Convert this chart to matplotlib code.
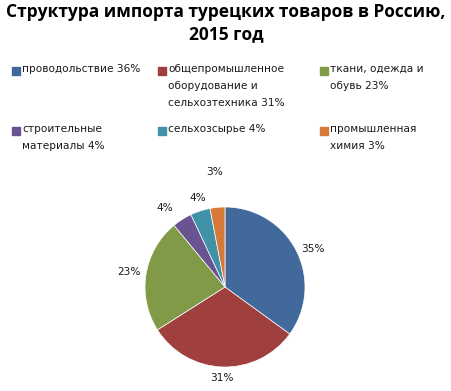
import numpy as np
import matplotlib.pyplot as plt
from matplotlib.patches import Rectangle

# data
legend_labels = ["проводольствие 36%",
                 "общепромышленное\nоборудование и\nсельхозтехника 31%",
                 "ткани, одежда и\nобувь 23%",
                 "строительные\nматериалы 4%",
                 "сельхозсырье 4%",
                 "промышленная\nхимия 3%"]
shares = [35, 31, 23, 4, 4, 3]
colors = ["#41699c", "#a0403e", "#809a47", "#6a5391", "#3f92a8", "#d67a39"]

W, H = 452, 391
fig = plt.figure(figsize=(W / 100, H / 100), dpi=100)

def fx(px):
    return px / W

def fy(py):
    return 1 - py / H

fig.text(0.5, fy(23), "Структура импорта турецких товаров в Россию,\n2015 год",
         ha="center", va="center", fontsize=12.5, fontweight="bold",
         family="Open Sans", linespacing=1.3)

# legend, drawn by hand to get the Excel look (marker on the first line)
cols_x = [12, 158, 320]
rows_y = [64, 124]
for i, lab in enumerate(legend_labels):
    x = cols_x[i % 3]
    y = rows_y[i // 3]
    fig.patches.append(Rectangle((fx(x), fy(y + 11)), 8 / W, 8 / H,
                                 transform=fig.transFigure, color=colors[i]))
    fig.text(fx(x + 10), fy(y), lab, ha="left", va="top", fontsize=7.6,
             color="#1a1a1a", linespacing=1.9)

# pie
cx, cy, r = 225, 287, 80
ax = fig.add_axes([fx(cx - r), fy(cy + r), 2 * r / W, 2 * r / H])
wedges, _ = ax.pie(shares, colors=colors, startangle=90, counterclock=False,
                   wedgeprops=dict(edgecolor="white", linewidth=0.5))
ax.set_xlim(-1, 1)
ax.set_ylim(-1, 1)
ax.set_aspect("equal")
ax.axis("off")

# label placement: (radius factor, angle shift in degrees)
label_pos = [(1.2, -4), (1.14, 0), (1.22, 0), (1.24, 5), (1.16, -1), (1.44, 0)]
for w, v, (rf, da) in zip(wedges, shares, label_pos):
    ang = np.deg2rad((w.theta1 + w.theta2) / 2 + da)
    ax.text(rf * np.cos(ang), rf * np.sin(ang), f"{v}%", ha="center",
            va="center", fontsize=7.6, color="#1a1a1a")

fig.savefig("out.png", dpi=100)
